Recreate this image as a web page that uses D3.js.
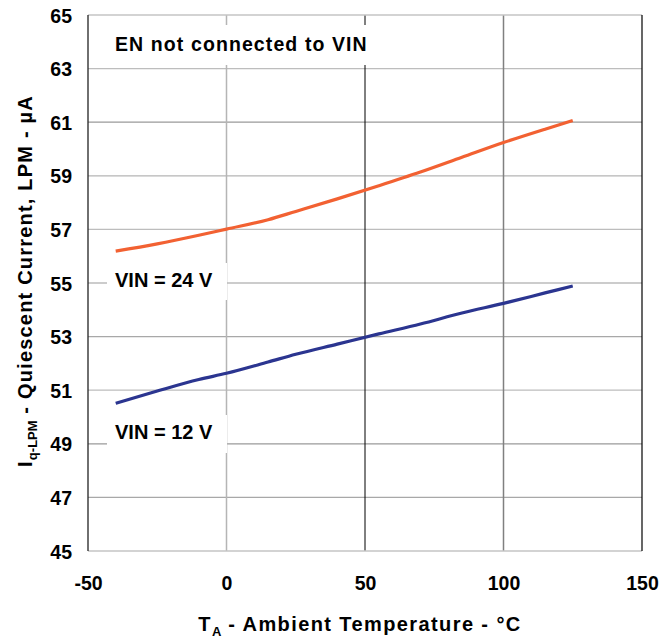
<!DOCTYPE html>
<html>
<head>
<meta charset="utf-8">
<script src="https://cdn.jsdelivr.net/npm/d3@7"></script>
<style>
  html, body { margin: 0; padding: 0; background: #fff; }
  svg { display: block; font-family: "Liberation Sans", Arial, sans-serif; font-weight: bold; }
</style>
</head>
<body>
<svg id="chart" width="660" height="640"></svg>
<script>
// ---- data ----
const temperatures = [-40, -25, -10, 0, 15, 25, 40, 55, 70, 85, 100, 115, 125];
const vin24 = [56.19, 56.46, 56.78, 57.01, 57.36, 57.67, 58.14, 58.63, 59.14, 59.69, 60.24, 60.74, 61.06];
const vin12 = [50.51, 50.97, 51.40, 51.63, 52.05, 52.34, 52.72, 53.10, 53.47, 53.88, 54.24, 54.63, 54.89];
const xTicks = [-50, 0, 50, 100, 150];
const yTicks = [45, 47, 49, 51, 53, 55, 57, 59, 61, 63, 65];
const seriesNames = ["VIN = 24 V", "VIN = 12 V"];
const noteText = "EN not connected to VIN";

// ---- layout ----
const L = 88, R = 642, T = 15, B = 551;
const svg = d3.select("#chart");
const x = d3.scaleLinear().domain([-50, 150]).range([L, R]);
const y = d3.scaleLinear().domain([45, 65]).range([B, T]);

// horizontal gridlines
const hColors = {63: "#bdbdbd", 61: "#9a9a9a", 59: "#b5b5b5", 57: "#bdbdbd", 55: "#9a9a9a", 53: "#a8a8a8", 51: "#bdbdbd", 49: "#9a9a9a", 47: "#a8a8a8"};
svg.append("g").selectAll("line").data(yTicks.filter(d => d > 45 && d < 65)).join("line")
  .attr("x1", L).attr("x2", R)
  .attr("y1", d => y(d)).attr("y2", d => y(d))
  .attr("stroke", d => hColors[d] || "#aaa").attr("stroke-width", 1.2);

// vertical gridlines
const vColors = {0: "#b5b5b5", 50: "#000", 100: "#808080"};
svg.append("g").selectAll("line").data([0, 50, 100]).join("line")
  .attr("x1", d => x(d)).attr("x2", d => x(d))
  .attr("y1", T).attr("y2", B)
  .attr("stroke", d => vColors[d]).attr("stroke-width", d => d === 50 ? 1 : 1.5);

// frame
svg.append("line").attr("x1", L).attr("x2", R).attr("y1", T).attr("y2", T).attr("stroke", "#c4c4c4").attr("stroke-width", 1.5);
svg.append("line").attr("x1", L).attr("x2", R).attr("y1", B).attr("y2", B).attr("stroke", "#c4c4c4").attr("stroke-width", 1.5);
svg.append("line").attr("x1", L).attr("x2", L).attr("y1", T).attr("y2", B).attr("stroke", "#222").attr("stroke-width", 1.3);
svg.append("line").attr("x1", R).attr("x2", R).attr("y1", T).attr("y2", B).attr("stroke", "#000").attr("stroke-width", 1.2);

// white label boxes
svg.append("rect").attr("x", 104).attr("y", 25).attr("width", 276).attr("height", 40).attr("fill", "#fff");
svg.append("rect").attr("x", 107).attr("y", 263).attr("width", 120).attr("height", 37).attr("fill", "#fff");
svg.append("rect").attr("x", 107).attr("y", 415).attr("width", 120).attr("height", 38).attr("fill", "#fff");

// lines
const line = d3.line().x(d => x(d[0])).y(d => y(d[1])).curve(d3.curveMonotoneX);
svg.append("path").datum(temperatures.map((t, i) => [t, vin24[i]]))
  .attr("d", line).attr("fill", "none").attr("stroke", "#f26132").attr("stroke-width", 3.2);
svg.append("path").datum(temperatures.map((t, i) => [t, vin12[i]]))
  .attr("d", line).attr("fill", "none").attr("stroke", "#2b3590").attr("stroke-width", 3.2);

// axes (labels only)
const fmt = d => String(d);
const yAxis = svg.append("g").attr("transform", `translate(${L},0)`)
  .call(d3.axisLeft(y).tickValues(yTicks).tickSize(0).tickPadding(16).tickFormat(fmt));
yAxis.select(".domain").remove();
yAxis.selectAll("text").attr("font-size", 19.5).attr("font-family", "'Liberation Sans', Arial, sans-serif")
  .attr("font-weight", "bold").attr("fill", "#000").attr("dy", "0.36em");

const xAxis = svg.append("g").attr("transform", `translate(0,${B})`)
  .call(d3.axisBottom(x).tickValues(xTicks).tickSize(0).tickPadding(25).tickFormat(fmt));
xAxis.select(".domain").remove();
xAxis.selectAll("text").attr("font-size", 19.5).attr("font-family", "'Liberation Sans', Arial, sans-serif")
  .attr("font-weight", "bold").attr("fill", "#000");

// annotations
svg.append("text").attr("x", 115).attr("y", 51).attr("font-size", 19.5)
  .attr("letter-spacing", "1.1px").text(noteText);
svg.append("text").attr("x", 115).attr("y", 287).attr("font-size", 20).text(seriesNames[0]);
svg.append("text").attr("x", 115).attr("y", 439).attr("font-size", 20).text(seriesNames[1]);

// x axis title
const xt = svg.append("text").attr("x", 360).attr("y", 631).attr("text-anchor", "middle")
  .attr("font-size", 20).attr("letter-spacing", "1.4px");
xt.append("tspan").text("T");
xt.append("tspan").attr("font-size", 13).attr("dy", 5).attr("letter-spacing", "0px").text("A");
xt.append("tspan").attr("dy", -5).text(" - Ambient Temperature - °C");

// y axis title
const yt = svg.append("text").attr("transform", `translate(32,${(T + B) / 2 - 2}) rotate(-90)`)
  .attr("text-anchor", "middle").attr("font-size", 20).attr("letter-spacing", "1.2px");
yt.append("tspan").text("I");
yt.append("tspan").attr("font-size", 13).attr("dy", 5).attr("letter-spacing", "0px").text("q-LPM");
yt.append("tspan").attr("dy", -5).text(" - Quiescent Current, LPM  - µA");
</script>
</body>
</html>
